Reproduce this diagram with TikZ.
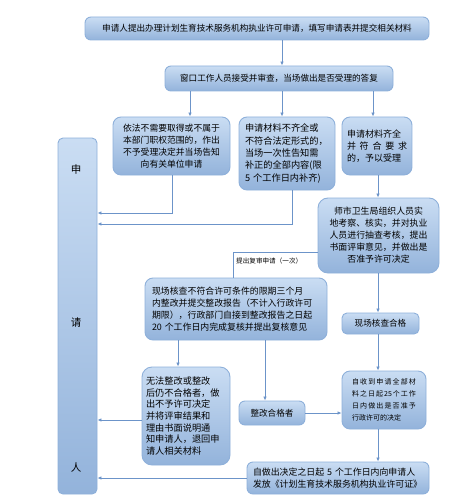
\documentclass[tikz,border=0pt]{standalone}
\usepackage{fontspec}
\setmainfont{Noto Sans CJK SC}
\usetikzlibrary{arrows.meta}
\XeTeXlinebreaklocale "zh"
\definecolor{boxtop}{HTML}{CADDF3}
\definecolor{boxbot}{HTML}{93B3DB}
\definecolor{boxline}{HTML}{8EB0DA}
\definecolor{arrcol}{HTML}{6C94C9}
\tikzset{
  fbox/.style={draw=boxline, line width=0.9pt, rounded corners=6pt,
    top color=boxtop, bottom color=boxbot, inner sep=2pt, text=black,
    font=\fontsize{8.6}{12}\selectfont},
  arr/.style={draw=arrcol, line width=0.8pt, -{Latex[length=4pt,width=3.5pt]}},
  conn/.style={draw=arrcol, line width=0.8pt},
}
\begin{document}
\begin{tikzpicture}[x=1pt,y=-1pt]
\useasboundingbox (0,0) rectangle (448,500);
% side box
\node[fbox, minimum width=39pt, minimum height=356pt, rounded corners=5pt] (side) at (77.5,316) {};
\node[font=\fontsize{10.5}{12}\selectfont] (s1) at (76,170) {申};
\node[font=\fontsize{10.5}{12}\selectfont] (s2) at (76,323) {请};
\node[font=\fontsize{10.5}{12}\selectfont] (s3) at (76,467) {人};
% boxes
\node[fbox, minimum width=344pt, minimum height=23pt] (b1) at (257,28.5) {申请人提出办理计划生育技术服务机构执业许可申请，填写申请表并提交相关材料};
\node[fbox, minimum width=228pt, minimum height=25pt] (b2) at (279,78.5) {窗口工作人员接受并审查，当场做出是否受理的答复};
\node[fbox, minimum width=117pt, minimum height=58pt, rounded corners=8pt, align=center, text width=112pt, font=\fontsize{8.8}{12}\selectfont] (b3a) at (171.5,146) {依法不需要取得或不属于\\本部门职权范围的，作出\\不予受理决定并当场告知\\向有关单位申请};
\node[fbox, minimum width=96pt, minimum height=73pt, rounded corners=8pt, align=left, text width=84pt, font=\fontsize{9.2}{12.3}\selectfont] (b3b) at (287,153.5) {申请材料不齐全或\\不符合法定形式的，\\当场一次性告知需\\补正的全部内容(限\\5 个工作日内补齐)};
\node[fbox, minimum width=70pt, minimum height=58pt, rounded corners=8pt, align=left, text width=60pt, font=\fontsize{9}{12}\selectfont] (b3c) at (377,146) {申请材料齐全\\并\hfill 符\hfill 合\hfill 要\hfill 求\\的，予以受理};
\node[fbox, minimum width=121pt, minimum height=75pt, rounded corners=10pt, align=center, text width=112pt, font=\fontsize{8.9}{12}\selectfont] (b4) at (378.5,235.5) {师市卫生局组织人员实\\地考察、核实，并对执业\\人员进行抽查考核，提出\\书面评审意见，并做出是\\否准予许可决定};
\node[fbox, minimum width=182pt, minimum height=62pt, rounded corners=8pt, align=left, text width=168pt, font=\fontsize{8.9}{12}\selectfont] (b5) at (236,309) {现场核查不符合许可条件的限期三个月\\内整改并提交整改报告（不计入行政许可\\期限），行政部门自接到整改报告之日起\\20 个工作日内完成复核并提出复核意见};
\node[fbox, minimum width=88pt, minimum height=98pt, rounded corners=10pt, align=left, text width=80pt, font=\fontsize{9.2}{11.7}\selectfont] (b6) at (186,416) {无法整改或整改\\后仍不合格者，做\\出不予许可决定\\并将评审结果和\\理由书面说明通\\知申请人，退回申\\请人相关材料};
\node[fbox, minimum width=66pt, minimum height=24pt] (b7) at (272,413) {整改合格者};
\node[fbox, minimum width=84pt, minimum height=58pt, rounded corners=8pt, align=left, text width=64pt, font=\fontsize{7}{12}\selectfont] (b8) at (384,400) {自\hfill 收\hfill 到\hfill 申\hfill 请\hfill 全\hfill 部\hfill 材\\料\hfill 之\hfill 日\hfill 起\hfill 25\hfill 个\hfill 工\hfill 作\\日\hfill 内\hfill 做\hfill 出\hfill 是\hfill 否\hfill 准\hfill 予\\行政许可的决定};
\node[fbox, minimum width=182pt, minimum height=32pt, align=left, text width=170pt, font=\fontsize{8.9}{12}\selectfont] (b9) at (338,478) {自做出决定之日起 5 个工作日内向申请人\\发放《计划生育技术服务机构执业许可证》};
\node[fbox, minimum width=77pt, minimum height=21pt, rounded corners=5pt] (b10) at (380.5,323.5) {现场核查合格};
% connectors
\draw[arr] (b1.south -| 282,0) -- (b2.north -| 282,0);
\draw[arr] (b2.south -| 190,0) -- (b3a.north -| 190,0);
\draw[arr] (b2.south -| 282,0) -- (b3b.north -| 282,0);
\draw[arr] (b2.south -| 373,0) -- (b3c.north -| 373,0);
\draw[arr] (b3c.south -| 378,0) -- (b4.north -| 378,0);
\draw[arr] (b3a.south -| 172,0) |- (side.east |- 0,213);
\draw[arr] (b3b.south -| 292,0) |- (side.east |- 0,224);
\draw[arr] (b4.south -| 378,0) -- (b10.north -| 378,0);
\draw[arr] (b10.south -| 378,0) -- (b8.north -| 378,0);
\draw[conn] (b4.west |- 0,252) -| (b5.north -| 233,0);
\node[anchor=west, font=\fontsize{6.6}{8}\selectfont, inner sep=0pt] (lbl) at (236,261) {提出复审申请（一次）};
\draw[arr] (b5.south -| 178,0) -- (b6.north -| 178,0);
\draw[arr] (b5.south -| 265,0) -- (b7.north -| 265,0);
\draw[arr] (b7.east) -- (b8.west |- b7.east);
\draw[arr] (b8.south -| 378,0) -- (b9.north -| 378,0);
\draw[arr] (b6.west |- 0,420) -- (side.east |- 0,420);
\draw[arr] (b9.west |- 0,478) -- (side.east |- 0,478);
\end{tikzpicture}
\end{document}
